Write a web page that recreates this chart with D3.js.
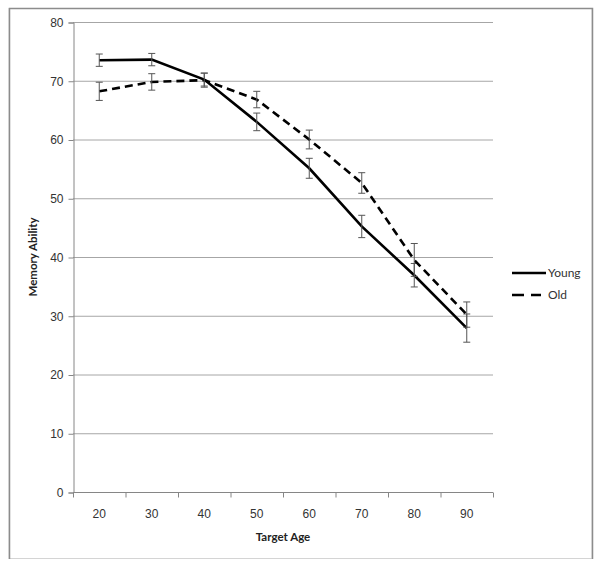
<!DOCTYPE html>
<html>
<head>
<meta charset="utf-8">
<script src="https://cdn.jsdelivr.net/npm/d3@7"></script>
<style>
  html, body { margin: 0; padding: 0; background: #fff; }
  svg { display: block; font-family: Lato, "Open Sans", sans-serif; }
</style>
</head>
<body>
<svg id="chart" width="600" height="570"></svg>
<script>
const categories = ["20", "30", "40", "50", "60", "70", "80", "90"];
const youngValues = [73.5, 73.6, 70.2, 63.0, 55.1, 45.2, 36.9, 27.9];
const youngErrors = [1.05, 1.05, 1.1, 1.5, 1.7, 1.9, 2.0, 2.4];
const oldValues = [68.2, 69.8, 70.1, 66.8, 60.0, 52.6, 39.5, 30.2];
const oldErrors = [1.55, 1.4, 1.2, 1.4, 1.6, 1.75, 2.8, 2.15];
const yTicks = [0, 10, 20, 30, 40, 50, 60, 70, 80];
const seriesNames = ["Young", "Old"];

(function () {
const svg = d3.select("#chart");

// outer frame
svg.append("rect").attr("x", 9).attr("y", 8.5).attr("width", 583).attr("height", 550)
  .attr("fill", "none").attr("stroke", "#d4d4d4").attr("stroke-width", 1);
svg.append("path").attr("d", "M9.5,559 V8.5 H592.5 V559")
  .attr("fill", "none").attr("stroke", "#8c8c8c").attr("stroke-width", 1.5);

const pLeft = 73, pRight = 493, pTop = 22, pBottom = 492;
const x = d3.scaleBand().domain(categories).range([pLeft, pRight]);
const y = d3.scaleLinear().domain([0, 80]).range([pBottom, pTop]);

// gridlines
svg.append("g").selectAll("line").data(yTicks.filter(t => t > 0)).join("line")
  .attr("x1", pLeft).attr("x2", pRight)
  .attr("y1", d => y(d) + 0.5).attr("y2", d => y(d) + 0.5)
  .attr("stroke", "#a6a6a6").attr("stroke-width", 1);

// y axis
const yAxis = svg.append("g").attr("transform", `translate(${pLeft + 0.5},0.5)`)
  .call(d3.axisLeft(y).tickValues(yTicks).tickSize(5).tickPadding(5));
yAxis.select(".domain").attr("stroke", "#868686");
yAxis.selectAll(".tick line").attr("stroke", "#868686");
yAxis.selectAll("text").attr("font-size", 12).attr("fill", "#333");

// x axis
const xAxis = svg.append("g").attr("transform", `translate(0,${pBottom + 0.5})`)
  .call(d3.axisBottom(x).tickSize(0).tickPadding(17));
xAxis.select(".domain").attr("stroke", "#868686").attr("d", `M${pLeft},0H${pRight}`);
xAxis.selectAll("text").attr("font-size", 12).attr("fill", "#333");
xAxis.append("g").selectAll("line").data(categories.concat(["end"])).join("line")
  .attr("x1", (d, i) => pLeft + i * x.step() + 0.5).attr("x2", (d, i) => pLeft + i * x.step() + 0.5)
  .attr("y1", 0).attr("y2", 5).attr("stroke", "#868686");

// axis titles
svg.append("text").attr("x", (pLeft + pRight) / 2).attr("y", 541)
  .attr("text-anchor", "middle").attr("font-size", 11.5).attr("font-weight", "bold")
  .attr("fill", "#222").text("Target Age");
svg.append("text").attr("transform", `translate(37,${(pTop + pBottom) / 2}) rotate(-90)`)
  .attr("text-anchor", "middle").attr("font-size", 11.5).attr("font-weight", "bold")
  .attr("fill", "#222").text("Memory Ability");

const cx = c => x(c) + x.bandwidth() / 2;
const line = d3.line().x(d => cx(d.c)).y(d => y(d.v));

const series = [
  { name: seriesNames[0], values: youngValues, errors: youngErrors, dash: null },
  { name: seriesNames[1], values: oldValues, errors: oldErrors, dash: "8,5" }
];

series.forEach(s => {
  const data = categories.map((c, i) => ({ c, v: s.values[i], e: s.errors[i] }));
  svg.append("path").datum(data).attr("d", line)
    .attr("fill", "none").attr("stroke", "#000").attr("stroke-width", 2.6)
    .attr("stroke-dasharray", s.dash);
  const eb = svg.append("g").attr("stroke", "#555").attr("stroke-width", 1);
  eb.selectAll(".v").data(data).join("line")
    .attr("x1", d => cx(d.c)).attr("x2", d => cx(d.c))
    .attr("y1", d => y(d.v + d.e)).attr("y2", d => y(d.v - d.e));
  eb.selectAll(".t").data(data).join("line")
    .attr("x1", d => cx(d.c) - 3.5).attr("x2", d => cx(d.c) + 3.5)
    .attr("y1", d => y(d.v + d.e)).attr("y2", d => y(d.v + d.e));
  eb.selectAll(".b").data(data).join("line")
    .attr("x1", d => cx(d.c) - 3.5).attr("x2", d => cx(d.c) + 3.5)
    .attr("y1", d => y(d.v - d.e)).attr("y2", d => y(d.v - d.e));
});

// legend
const legend = svg.append("g");
series.forEach((s, i) => {
  const ly = 273 + i * 22;
  legend.append("line").attr("x1", s.dash ? 512 : 512).attr("x2", s.dash ? 541 : 546).attr("y1", ly).attr("y2", ly)
    .attr("stroke", "#000").attr("stroke-width", 2.6).attr("stroke-dasharray", s.dash ? "12,7" : null);
  legend.append("text").attr("x", 548).attr("y", ly + 4).attr("font-size", 12)
    .attr("fill", "#333").text(s.name);
});
})();
</script>
</body>
</html>
